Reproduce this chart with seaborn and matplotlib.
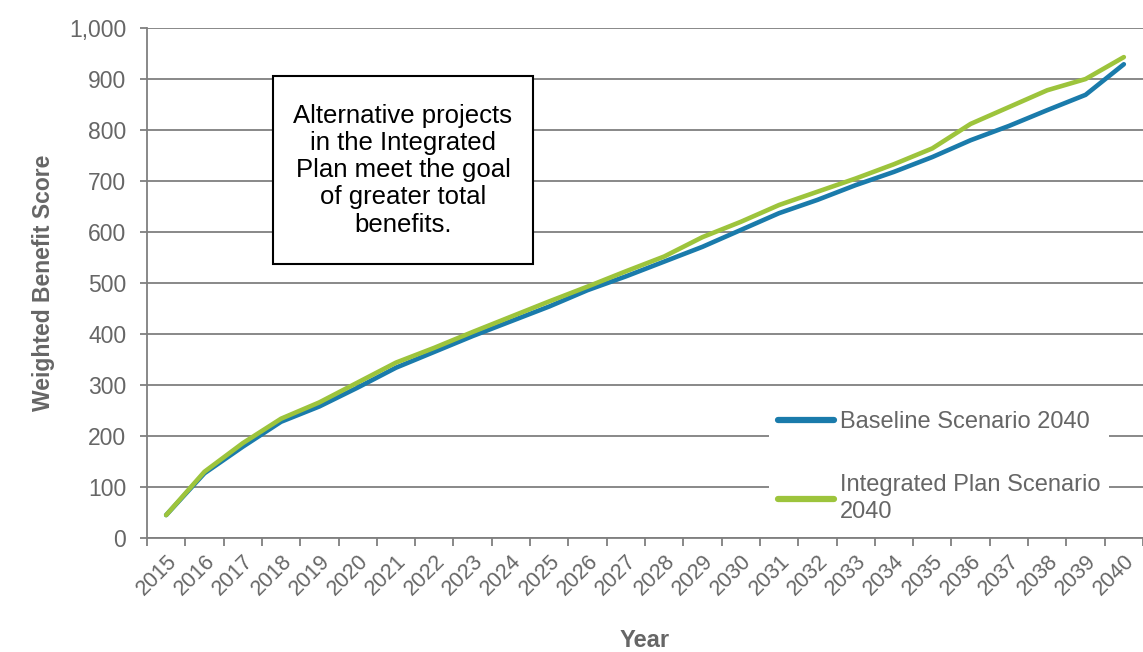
import matplotlib.pyplot as plt
import matplotlib as mpl
import matplotlib.patches as mpatches
import pandas as pd
import seaborn as sns

sns.set_style('white')
mpl.rcParams['font.family'] = ['Liberation Sans', 'DejaVu Sans']

years = list(range(2015, 2041))
baseline = [45, 127, 179, 228, 258, 295, 334, 365, 396, 425, 454, 486, 513, 542,
            571, 604, 637, 663, 692, 718, 747, 780, 808, 839, 869, 929]
integrated = [45, 130, 186, 234, 266, 305, 344, 373, 404, 434, 464, 493, 523, 552,
              590, 620, 653, 679, 705, 733, 764, 812, 845, 878, 900, 943]
series_names = ['Baseline Scenario 2040', 'Integrated Plan Scenario\n2040']
note = 'Alternative projects\nin the Integrated\nPlan meet the goal\nof greater total\nbenefits.'

df = pd.DataFrame({
    'Year': years * 2,
    'Score': baseline + integrated,
    'Scenario': [series_names[0]] * len(years) + [series_names[1]] * len(years),
})

grey = '#7f7f7f'
txt = '#666666'

fig = plt.figure(figsize=(11.43, 6.52), dpi=100)
ax = fig.add_axes([0.1286, 0.1748, 0.8714, 0.7822])

sns.lineplot(data=df, x='Year', y='Score', hue='Scenario', ax=ax,
             palette=['#1a7bab', '#9dc43c'], linewidth=3.3)

ax.set_xlim(2014.5, 2040.5)
ax.set_ylim(0, 1000)
ax.set_yticks(range(0, 1001, 100))
ax.set_yticklabels([f'{v:,}' for v in range(0, 1001, 100)])
ax.yaxis.grid(True, color=grey, linewidth=1.3)
ax.set_axisbelow(True)

# category style axis: ticks between years, labels at centres
ax.set_xticks([y - 0.5 for y in years] + [2040.5])
ax.set_xticklabels([])
ax.set_xticks(years, minor=True)
ax.set_xticklabels([str(y) for y in years], minor=True, rotation=45,
                   ha='right', rotation_mode='anchor')
ax.tick_params(axis='x', which='major', length=6, width=1.3, color=grey, direction='out')
ax.tick_params(axis='x', which='minor', length=0, pad=9, labelsize=15.5, labelcolor=txt)
ax.tick_params(axis='y', length=5, width=1.3, color=grey, pad=10, labelsize=16.5, labelcolor=txt)
ax.yaxis.set_ticks_position('left')
ax.xaxis.set_ticks_position('bottom')

for s in ['top', 'right']:
    ax.spines[s].set_visible(False)
for s in ['left', 'bottom']:
    ax.spines[s].set_color(grey)
    ax.spines[s].set_linewidth(1.3)

ax.set_xlabel('Year', fontsize=17, fontweight='bold', color=txt, labelpad=21)
ax.set_ylabel('Weighted Benefit Score', fontsize=16.5, fontweight='bold', color=txt, labelpad=10)

# note box
ax.add_patch(mpatches.Rectangle((0.1265, 0.537), 0.261, 0.3686, transform=ax.transAxes,
                                facecolor='white', edgecolor='black', linewidth=1.5, zorder=5))
ax.text(0.1265 + 0.261 / 2, 0.537 + 0.3686 / 2, note, transform=ax.transAxes,
        ha='center', va='center', fontsize=18.5, color='black', linespacing=1.17, zorder=6)

leg = ax.legend(loc='upper left', bbox_to_anchor=(0.625, 0.265), frameon=True,
                facecolor='white', edgecolor='none', framealpha=1, fontsize=17,
                handlelength=2.4, handletextpad=0.25, labelspacing=1.75, borderpad=0.35,
                borderaxespad=0)
for t in leg.get_texts():
    t.set_color(txt)
    t.set_linespacing(1.25)
for h in leg.get_lines():
    h.set_linewidth(4.5)

fig.savefig('out.png', dpi=100)
